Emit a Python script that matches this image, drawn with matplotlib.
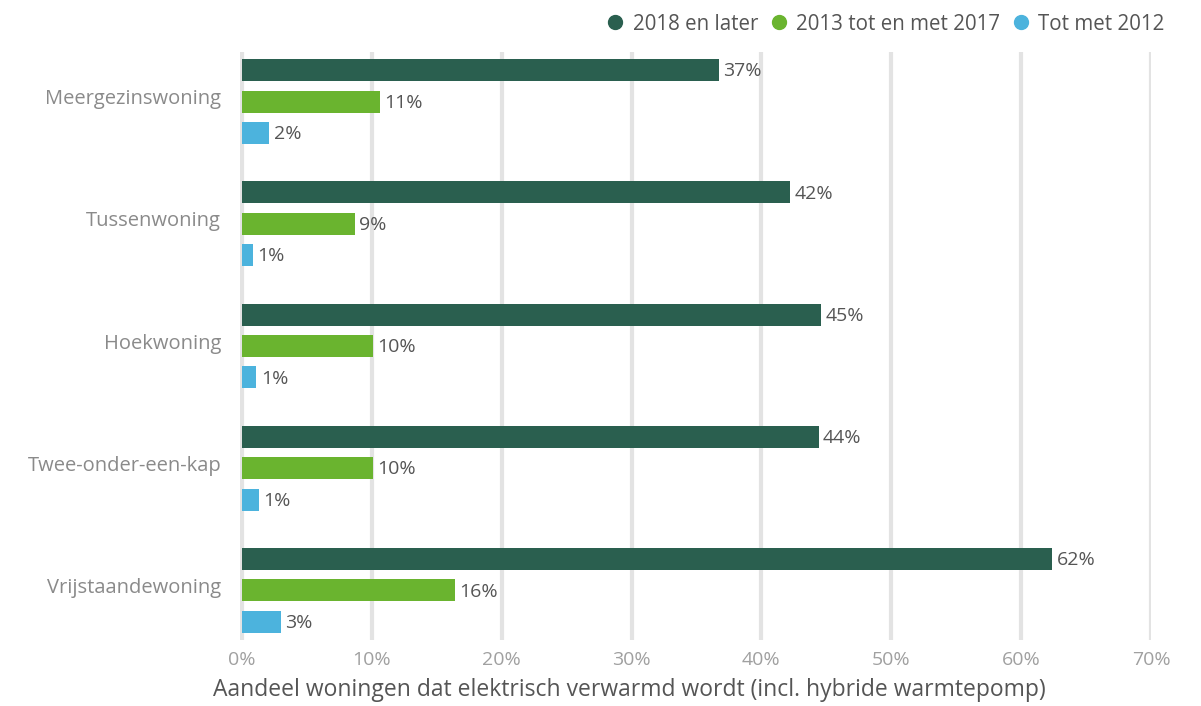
import matplotlib
matplotlib.use('Agg')
import matplotlib.pyplot as plt
import matplotlib.transforms as mtransforms
import numpy as np

# ── Data ────────────────────────────────────────────────────────────────────
categories = ['Meergezinswoning', 'Tussenwoning', 'Hoekwoning',
              'Twee-onder-een-kap', 'Vrijstaandewoning']
series_names = ['2018 en later', '2013 tot en met 2017', 'Tot met 2012']
vals_2018 = [36.7, 42.2, 44.6, 44.4, 62.4]
vals_2013 = [10.6, 8.7, 10.1, 10.1, 16.4]
vals_2012 = [2.1, 0.85, 1.1, 1.3, 3.0]
labels_2018 = ['37%', '42%', '45%', '44%', '62%']
labels_2013 = ['11%', '9%', '10%', '10%', '16%']
labels_2012 = ['2%', '1%', '1%', '1%', '3%']
xticks = [0, 10, 20, 30, 40, 50, 60, 70]

colors = ['#2a5f4f', '#6ab42f', '#4cb3dd']

plt.rcParams['font.family'] = ['Open Sans', 'DejaVu Sans']

fig = plt.figure(figsize=(12.01, 7.06), dpi=100)
ax = fig.add_axes([240 / 1201, 1 - 640 / 706, 911 / 1201, 588 / 706])

y = np.arange(len(categories))
bar_h = 0.18
offset = 0.257
all_vals = [vals_2018, vals_2013, vals_2012]
all_labels = [labels_2018, labels_2013, labels_2012]

for k, (vals, labs) in enumerate(zip(all_vals, all_labels)):
    pos = y + (k - 1) * offset
    ax.barh(pos, vals, height=bar_h, color=colors[k], label=series_names[k], zorder=3)
    for p, v, t in zip(pos, vals, labs):
        ax.text(v + 0.35, p + 0.01, t, va='center', ha='left', fontsize=14, color='#555555')

ax.set_xlim(-0.15, 70)
ax.set_ylim(len(categories) - 1 + 0.405, -0.405)
ax.set_xticks(xticks)
ax.set_xticklabels([f'{t}%' for t in xticks])
ax.set_yticks(y)
ax.set_yticklabels(categories)
ax.tick_params(axis='x', length=0, labelsize=14, labelcolor='#a0a0a0', pad=8)
ax.tick_params(axis='y', length=0, labelsize=14.5, labelcolor='#8a8a8a', pad=13.5)
# category labels sit a little above the middle bar
shift = mtransforms.ScaledTranslation(0, 5 / 100, fig.dpi_scale_trans)
for lab in ax.get_yticklabels():
    lab.set_transform(lab.get_transform() + shift)
ax.grid(axis='x', color='#e3e3e3', linewidth=3, zorder=0)
for s in ax.spines.values():
    s.set_visible(False)

ax.set_xlabel('Aandeel woningen dat elektrisch verwarmd wordt (incl. hybride warmtepomp)',
              fontsize=16.5, color='#555555')
ax.xaxis.set_label_coords((629 - 240) / 911, -0.065)

leg = fig.legend(handles=[plt.Line2D([], [], marker='o', ls='', color=c, markersize=10)
                          for c in colors],
                 labels=series_names, loc='upper right', bbox_to_anchor=(0.985, 1.007),
                 ncol=3, frameon=False, fontsize=14.8, handletextpad=0.35,
                 columnspacing=0.5, handlelength=1.0)
for t in leg.get_texts():
    t.set_color('#555555')

fig.savefig('out.png', dpi=100)
